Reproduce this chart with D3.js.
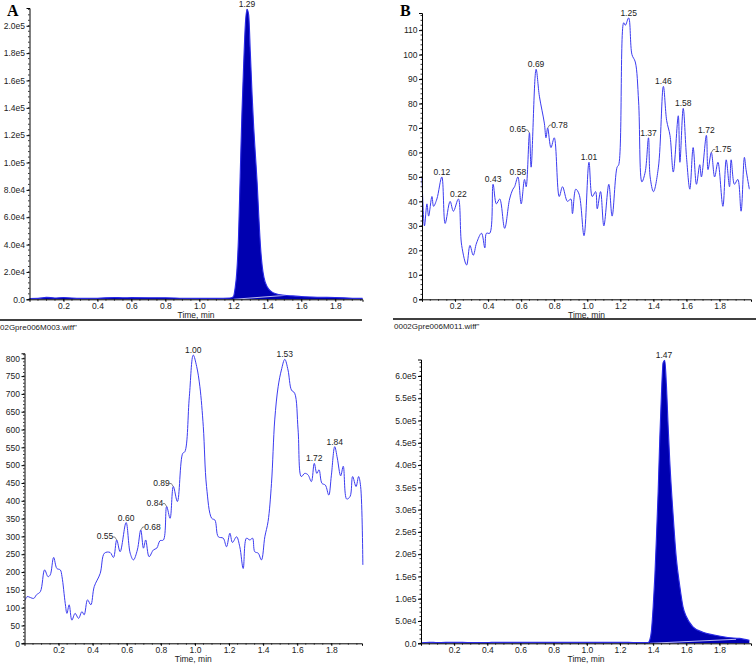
<!DOCTYPE html>
<html><head><meta charset="utf-8">
<script src="https://cdn.jsdelivr.net/npm/d3@7/dist/d3.min.js"></script>
<style>
html,body{margin:0;padding:0;background:#fff;}
svg{display:block;font-family:"Liberation Sans",Arial,sans-serif;}
</style></head>
<body>
<svg id="chart" width="756" height="665"></svg>
<script>
// ---------- DATA ----------
// Panel A (large peak at 1.29)
const panelA_time = [0,0.05,0.1,0.15,0.2,0.3,0.4,0.5,0.55,0.6,0.7,0.8,0.9,1.0,1.1,1.18,1.2,1.21,1.22,1.23,1.24,1.25,1.26,1.27,1.28,1.29,1.30,1.31,1.32,1.33,1.34,1.35,1.36,1.37,1.38,1.40,1.42,1.45,1.50,1.55,1.60,1.70,1.80,1.90,1.96];
const panelA_intensity = [600,700,1400,1000,1300,700,800,1300,1100,1200,1100,1100,800,700,700,900,2000,8000,20000,45000,90000,135000,170000,200000,212000,208000,180000,150000,125000,105000,85000,60000,38000,24000,16000,9000,6000,4000,3000,2500,2000,1500,1300,800,700];
const panelA_baseT = [1.20,1.52];
const panelA_baseV = [0,3000];
const panelA_yTicks = [0,20000,40000,60000,80000,100000,120000,140000,160000,180000,200000];
const panelA_peaks = [{t:1.28,v:212000,label:"1.29"}];

// Panel B (noisy trace)
const panelB_time = [0,0.015,0.03,0.04,0.06,0.07,0.09,0.12,0.14,0.17,0.19,0.22,0.24,0.27,0.29,0.31,0.33,0.36,0.38,0.39,0.41,0.43,0.45,0.47,0.50,0.53,0.55,0.56,0.58,0.60,0.62,0.63,0.65,0.66,0.69,0.71,0.74,0.75,0.76,0.78,0.80,0.83,0.85,0.88,0.90,0.91,0.93,0.95,0.98,1.01,1.03,1.05,1.06,1.08,1.10,1.13,1.15,1.18,1.19,1.22,1.23,1.25,1.27,1.29,1.31,1.33,1.35,1.37,1.38,1.40,1.43,1.46,1.48,1.50,1.52,1.55,1.56,1.58,1.60,1.62,1.64,1.66,1.68,1.69,1.72,1.73,1.75,1.77,1.79,1.82,1.84,1.86,1.87,1.89,1.91,1.93,1.95,1.96,1.98];
const panelB_intensity = [50,30,39,34,42,38,41,50,31,40,36,41,22,14,22,18,23,27,21,27,27,47,39,41,29,41,45,46,50,39,49,46,68,54,94,83,72,66,70,62,66,42,46,40,41,35,45,43,26,56,42,44,37,44,30,47,34,54,55,113,112,115,100,97,81,48,52,66,50,44,54,87,73,67,52,75,56,78,58,45,62,47,55,50,67,53,60,50,56,38,57,46,57,47,49,36,58,53,45];
const panelB_yTicks = [0,10,20,30,40,50,60,70,80,90,100,110];
const panelB_peaks = [
  {t:0.12,v:50,label:"0.12"},{t:0.22,v:41,label:"0.22"},{t:0.43,v:47,label:"0.43"},
  {t:0.58,v:50,label:"0.58"},{t:0.65,v:68,label:"0.65",side:"left"},{t:0.69,v:94,label:"0.69"},
  {t:0.76,v:70,label:"0.78",side:"right"},{t:1.01,v:56,label:"1.01"},{t:1.25,v:115,label:"1.25"},
  {t:1.37,v:66,label:"1.37"},{t:1.46,v:87,label:"1.46"},{t:1.58,v:78,label:"1.58"},
  {t:1.72,v:67,label:"1.72"},{t:1.75,v:60,label:"1.75",side:"right"}];

// Panel C (noisy trace)
const panelC_time = [0.005,0.015,0.054,0.07,0.093,0.118,0.138,0.151,0.171,0.19,0.21,0.22,0.239,0.249,0.262,0.278,0.297,0.317,0.337,0.35,0.37,0.389,0.409,0.444,0.469,0.502,0.522,0.541,0.561,0.596,0.62,0.639,0.662,0.682,0.698,0.711,0.731,0.756,0.776,0.795,0.815,0.834,0.854,0.873,0.897,0.928,0.941,0.967,0.99,1.01,1.029,1.049,1.068,1.098,1.117,1.137,1.166,1.185,1.205,1.22,1.244,1.263,1.283,1.302,1.322,1.338,1.351,1.371,1.39,1.41,1.429,1.449,1.468,1.488,1.507,1.527,1.546,1.566,1.585,1.605,1.624,1.644,1.663,1.683,1.70,1.715,1.728,1.745,1.765,1.785,1.80,1.82,1.835,1.855,1.87,1.89,1.91,1.925,1.945,1.96,1.972,1.985];
const panelC_intensity = [122,131,126,136,145,206,187,192,241,210,206,187,112,84,108,65,84,70,89,80,122,108,159,196,253,255,241,290,257,339,253,234,262,318,267,290,243,262,267,288,290,384,351,440,398,533,538,692,809,777,720,608,440,351,346,299,295,271,309,283,299,271,210,295,290,295,257,253,234,299,342,449,627,720,767,797,767,711,702,599,468,477,473,454,505,477,487,449,444,416,470,552,520,470,497,405,412,468,440,468,440,220];
const panelC_yTicks = [0,50,100,150,200,250,300,350,400,450,500,550,600,650,700,750,800];
const panelC_peaks = [
  {t:0.541,v:290,label:"0.55",side:"left"},{t:0.596,v:339,label:"0.60"},{t:0.682,v:318,label:"0.68",side:"right"},
  {t:0.834,v:384,label:"0.84",side:"left"},{t:0.873,v:440,label:"0.89",side:"left"},{t:0.99,v:809,label:"1.00"},
  {t:1.527,v:797,label:"1.53"},{t:1.70,v:505,label:"1.72"},{t:1.82,v:552,label:"1.84"}];

// Panel D (large peak at 1.47)
const panelD_time = [0,0.05,0.1,0.2,0.3,0.4,0.45,0.6,0.8,1.0,1.2,1.3,1.36,1.37,1.38,1.39,1.40,1.41,1.42,1.43,1.44,1.45,1.46,1.47,1.48,1.49,1.50,1.52,1.54,1.56,1.58,1.60,1.64,1.70,1.76,1.85,1.92,1.98];
const panelD_intensity = [1200,2500,1500,2500,1500,1500,2500,2500,2500,2500,2500,1500,1500,2000,8000,30000,82000,150000,240000,340000,460000,560000,630000,635000,580000,490000,410000,290000,190000,130000,82000,60000,37000,25000,19000,13000,11000,7000];
const panelD_baseT = [1.38,1.90];
const panelD_baseV = [0,9000];
const panelD_yTicks = [0,50000,100000,150000,200000,250000,300000,350000,400000,450000,500000,550000,600000];
const panelD_peaks = [{t:1.465,v:635000,label:"1.47"}];

const xTickValues = [0.2,0.4,0.6,0.8,1.0,1.2,1.4,1.6,1.8];
const fileNames = ["02Gpre006M003.wiff\"", "0002Gpre006M011.wiff\""];

// ---------- DRAW ----------
const svg = d3.select("#chart");
const sciFmt = v => v === 0 ? "0.0" : d3.format(".1e")(v).replace("e+", "e");

function panel(cfg) {
  const x = d3.scaleLinear().domain(cfg.xDomain).range(cfg.xRange);
  const y = d3.scaleLinear().domain(cfg.yDomain).range(cfg.yRange);
  const g = svg.append("g");
  const data = cfg.time.map((t, i) => ({t, v: cfg.values[i]}));

  if (cfg.filled) {
    const area = d3.area().x(d => x(d.t)).y0(y(0)).y1(d => y(d.v)).curve(d3.curveMonotoneX);
    g.append("path").datum(data).attr("d", area).attr("fill", "#0000b0");
    const base = cfg.baseT.map((t, i) => ({t, v: cfg.baseV[i]}));
    g.append("path").datum(base)
      .attr("d", d3.line().x(d => x(d.t)).y(d => y(d.v)))
      .attr("stroke", "#e8e8ff").attr("stroke-width", 0.8).attr("fill", "none");
    const line = d3.line().x(d => x(d.t)).y(d => y(d.v)).curve(d3.curveMonotoneX);
    g.append("path").datum(data).attr("d", line).attr("fill", "none")
      .attr("stroke", "#2a2ae6").attr("stroke-width", 1.1);
  } else {
    const line = d3.line().x(d => x(d.t)).y(d => y(d.v)).curve(d3.curveCatmullRom.alpha(0.5));
    g.append("path").datum(data).attr("d", line).attr("fill", "none")
      .attr("stroke", "#3c3cf0").attr("stroke-width", 1);
  }

  // y axis
  const yAxis = d3.axisLeft(y).tickValues(cfg.yTicks).tickFormat(cfg.yFmt).tickSize(3).tickPadding(1.5);
  const ya = g.append("g").attr("transform", `translate(${cfg.xRange[0]},0)`).call(yAxis);
  ya.select(".domain").attr("stroke", "#000").attr("stroke-width", 1);
  ya.selectAll("text").attr("font-size", 8.5).attr("fill", "#222");
  // y minor ticks
  const step = cfg.yTicks[1] - cfg.yTicks[0];
  const minor = d3.range(0, cfg.yDomain[1], step / 5);
  g.append("g").selectAll("line").data(minor).join("line")
    .attr("x1", cfg.xRange[0] - 1.5).attr("x2", cfg.xRange[0])
    .attr("y1", d => y(d)).attr("y2", d => y(d)).attr("stroke", "#000").attr("stroke-width", 0.8);

  // x axis
  const xAxis = d3.axisBottom(x).tickValues(xTickValues).tickFormat(d3.format(".1f")).tickSize(2.5).tickPadding(1);
  const xa = g.append("g").attr("transform", `translate(0,${cfg.yRange[0]})`).call(xAxis);
  xa.select(".domain").attr("stroke", "#000").attr("stroke-width", 1);
  xa.selectAll("text").attr("font-size", 8.5).attr("fill", "#222");
  const xminor = d3.range(0.05, cfg.xDomain[1], 0.05);
  g.append("g").selectAll("line").data(xminor).join("line")
    .attr("x1", d => x(d)).attr("x2", d => x(d))
    .attr("y1", cfg.yRange[0]).attr("y2", cfg.yRange[0] + 1.5).attr("stroke", "#000").attr("stroke-width", 0.7);

  g.append("text").attr("x", (cfg.xRange[0] + cfg.xRange[1]) / 2).attr("y", cfg.yRange[0] + 19)
    .attr("text-anchor", "middle").attr("font-size", 8.5).attr("fill", "#222").text("Time, min");

  // peak labels
  cfg.peaks.forEach(p => {
    const px = x(p.t), py = y(p.v);
    if (p.side === "left") {
      g.append("path").attr("d", `M${px},${py} L${px - 2},${py - 3} L${px - 4},${py - 3}`)
        .attr("stroke", "#333").attr("fill", "none").attr("stroke-width", 0.6);
      g.append("text").attr("x", px - 3.5).attr("y", py - 0.5).attr("text-anchor", "end")
        .attr("font-size", 8.5).attr("fill", "#222").text(p.label);
    } else if (p.side === "right") {
      g.append("path").attr("d", `M${px},${py} L${px + 2},${py - 3} L${px + 4},${py - 3}`)
        .attr("stroke", "#333").attr("fill", "none").attr("stroke-width", 0.6);
      g.append("text").attr("x", px + 3.5).attr("y", py - 0.5).attr("text-anchor", "start")
        .attr("font-size", 8.5).attr("fill", "#222").text(p.label);
    } else {
      g.append("text").attr("x", px).attr("y", py - 2).attr("text-anchor", "middle")
        .attr("font-size", 8.5).attr("fill", "#222").text(p.label);
    }
  });
}

panel({time: panelA_time, values: panelA_intensity, filled: true, baseT: panelA_baseT, baseV: panelA_baseV,
  xDomain: [0, 1.96], xRange: [29.5, 362.5], yDomain: [0, 213000], yRange: [299.3, 8],
  yTicks: panelA_yTicks, yFmt: sciFmt, peaks: panelA_peaks});
panel({time: panelB_time, values: panelB_intensity, filled: false,
  xDomain: [0, 1.99], xRange: [422, 751], yDomain: [0, 117], yRange: [299.3, 13],
  yTicks: panelB_yTicks, yFmt: d3.format("d"), peaks: panelB_peaks});
panel({time: panelC_time, values: panelC_intensity, filled: false,
  xDomain: [0, 1.98], xRange: [24.5, 362], yDomain: [0, 814], yRange: [643.3, 353.3],
  yTicks: panelC_yTicks, yFmt: d3.format("d"), peaks: panelC_peaks});
panel({time: panelD_time, values: panelD_intensity, filled: true, baseT: panelD_baseT, baseV: panelD_baseV,
  xDomain: [0, 1.99], xRange: [421, 751], yDomain: [0, 637000], yRange: [643.3, 359.5],
  yTicks: panelD_yTicks, yFmt: sciFmt, peaks: panelD_peaks});

// panel letters
svg.append("text").attr("x", 7).attr("y", 16).attr("font-family", "'Liberation Serif','Times New Roman',serif")
  .attr("font-weight", "bold").attr("font-size", 16).text("A");
svg.append("text").attr("x", 400).attr("y", 16).attr("font-family", "'Liberation Serif','Times New Roman',serif")
  .attr("font-weight", "bold").attr("font-size", 16).text("B");

// separators and file names
svg.append("line").attr("x1", 0).attr("x2", 362).attr("y1", 320).attr("y2", 320).attr("stroke", "#000").attr("stroke-width", 1.5);
svg.append("line").attr("x1", 393).attr("x2", 756).attr("y1", 319).attr("y2", 319).attr("stroke", "#000").attr("stroke-width", 1.5);
svg.append("text").attr("x", 0).attr("y", 330).attr("font-size", 8).attr("fill", "#222").text(fileNames[0]);
svg.append("text").attr("x", 394).attr("y", 329).attr("font-size", 8).attr("fill", "#222").text(fileNames[1]);
</script>
</body></html>
